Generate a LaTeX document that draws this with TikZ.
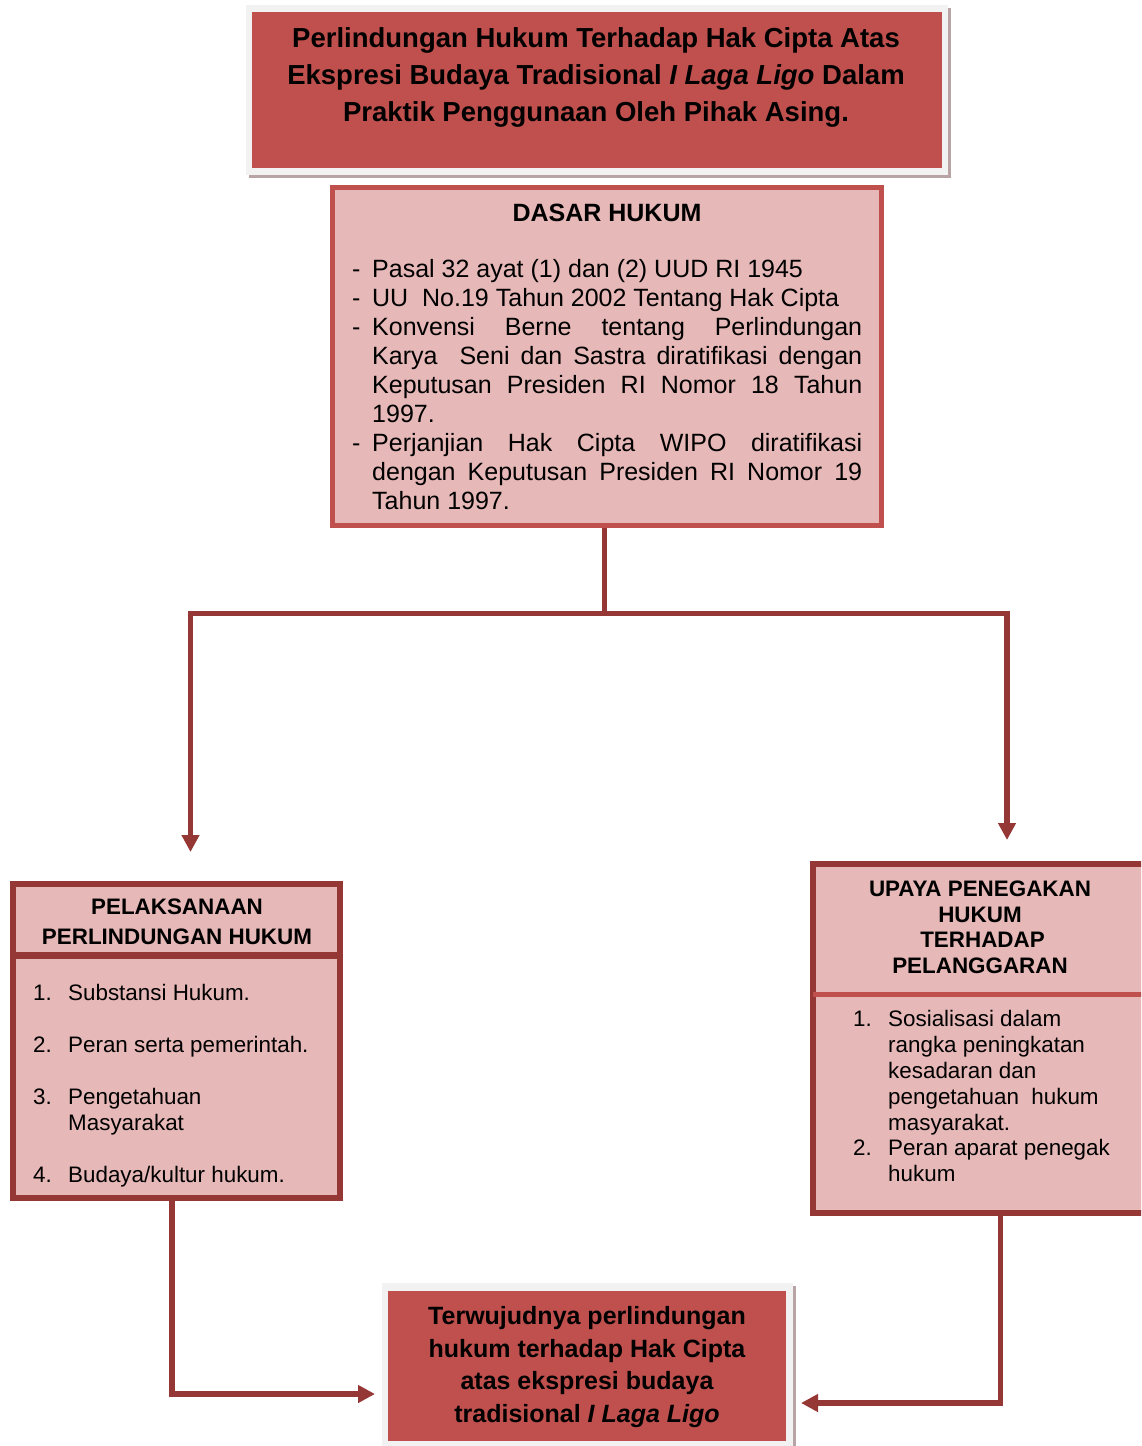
\documentclass[tikz,border=0pt]{standalone}
\usepackage{fontspec}
\setmainfont{Liberation Sans}
\usetikzlibrary{arrows.meta}
\definecolor{hdred}{HTML}{C0504D}
\definecolor{dkred}{HTML}{953735}
\definecolor{pinkfill}{HTML}{E6B8B7}
\definecolor{framegray}{HTML}{F2F2F2}
\definecolor{shadegray}{HTML}{B8A4A4}
\newcommand{\dashitem}{\hangindent=20pt\relax\hangafter=1\relax\noindent\makebox[20pt][l]{-}}
\newcommand{\numitem}[1]{\makebox[35pt][l]{#1}}
\tikzset{
  box/.style={rectangle, inner sep=0pt},
  conn/.style={draw=dkred, line width=5.5pt},
  tip/.style={-{Triangle[length=17pt,width=17pt]}},
  tiptwo/.style={{Triangle[length=17pt,width=17pt]}-{Triangle[length=17pt,width=17pt]}},
  txt/.style={inner sep=0pt, text=black},
}
\begin{document}
\begin{tikzpicture}[x=1pt,y=-1pt]
\useasboundingbox (0,0) rectangle (1141,1446);
\clip (0,0) rectangle (1141,1446);
\fill[white] (0,0) rectangle (1141,1446);

% ---- title box
\node[box, fill=shadegray, minimum width=702pt, minimum height=170pt] (tshadow) at (600,93) {};
\node[box, fill=framegray, minimum width=702pt, minimum height=170pt] (tframe) at (597,90) {};
\node[box, fill=hdred, minimum width=690pt, minimum height=156pt] (tbox) at (597,90) {};
\node[txt, anchor=north, align=center, font=\bfseries\fontsize{27.5}{37}\selectfont] (ttext) at (596,27)
  {Perlindungan Hukum Terhadap Hak Cipta Atas\\Ekspresi Budaya Tradisional \textit{I Laga Ligo} Dalam\\Praktik Penggunaan Oleh Pihak Asing.};

% ---- dasar hukum
\node[box, draw=hdred, line width=5pt, fill=pinkfill, minimum width=549pt, minimum height=338pt] (dbox) at (607,356.5) {};
\node[txt, anchor=north, font=\bfseries\fontsize{25}{29}\selectfont] (dtitle) at (607,204) {DASAR HUKUM};
\node[txt, anchor=north west, font=\fontsize{25}{29}\selectfont] (dlist) at (352,259)
  {\begin{minipage}[t]{510pt}\tolerance=10000\relax
   \dashitem Pasal 32 ayat (1) dan (2) UUD RI 1945\par
   \dashitem UU\ \ No.19 Tahun 2002 Tentang Hak Cipta\par
   \dashitem Konvensi Berne tentang Perlindungan\linebreak Karya\ \ Seni dan Sastra diratifikasi dengan\linebreak Keputusan Presiden RI Nomor 18 Tahun\linebreak 1997.\par
   \dashitem Perjanjian Hak Cipta WIPO diratifikasi\linebreak dengan Keputusan Presiden RI Nomor 19\linebreak Tahun 1997.\par
   \end{minipage}};

% ---- left box
\node[box, draw=dkred, line width=6pt, fill=pinkfill, minimum width=327pt, minimum height=314pt] (lbox) at (176.5,1041) {};
\draw[dkred, line width=7pt] (13,955) -- (340,955);
\node[txt, anchor=north, align=center, font=\bfseries\fontsize{22.4}{30}\selectfont] (lhead) at (177,899)
  {PELAKSANAAN\\PERLINDUNGAN HUKUM};
\node[txt, anchor=north west, align=left, font=\fontsize{22.4}{26}\selectfont] (litems) at (33,984)
  {\numitem{1.}Substansi Hukum.\\[26pt]
   \numitem{2.}Peran serta pemerintah.\\[26pt]
   \numitem{3.}Pengetahuan\\
   \hspace*{35pt}Masyarakat\\[26pt]
   \numitem{4.}Budaya/kultur hukum.};

% ---- right box
\node[box, draw=dkred, line width=6pt, fill=pinkfill, minimum width=340pt, minimum height=349pt] (rbox) at (983,1038.5) {};
\draw[hdred, line width=5pt] (813,994) -- (1153,994);
\node[txt, anchor=north, align=center, font=\bfseries\fontsize{22.4}{25.5}\selectfont] (rhead) at (980,881)
  {UPAYA PENEGAKAN\\HUKUM\\\hspace*{5pt}TERHADAP\\PELANGGARAN};
\node[txt, anchor=north west, align=left, font=\fontsize{22.4}{25.9}\selectfont] (ritems) at (853,1010)
  {\numitem{1.}Sosialisasi dalam\\
   \hspace*{35pt}rangka peningkatan\\
   \hspace*{35pt}kesadaran dan\\
   \hspace*{35pt}pengetahuan\ \ hukum\\
   \hspace*{35pt}masyarakat.\\
   \numitem{2.}Peran aparat penegak\\
   \hspace*{35pt}hukum};

% ---- bottom box
\node[box, fill=shadegray, minimum width=411pt, minimum height=167pt] (bshadow) at (590.5,1369.5) {};
\node[box, fill=framegray, minimum width=411pt, minimum height=167pt] (bframe) at (587.5,1366.5) {};
\node[box, fill=hdred, minimum width=398pt, minimum height=150pt] (bbox) at (587,1366) {};
\node[txt, anchor=north, align=center, font=\bfseries\fontsize{25}{32.7}\selectfont] (btext) at (587,1306)
  {Terwujudnya perlindungan\\hukum terhadap Hak Cipta\\atas ekspresi budaya\\tradisional \textit{I Laga Ligo}};

% ---- connectors
\coordinate (mid) at (604.5,613.5);
\coordinate (jl) at (190.5,613.5);
\coordinate (jr) at (1007,613.5);
\coordinate (tipl) at (190.5,852);
\coordinate (tipr) at (1007,840);
\draw[conn] (dbox.south -| mid) -- (mid);
\draw[conn, tiptwo] (tipl) -- (jl) -- (jr) -- (tipr);

\coordinate (lc) at (172,1394);
\coordinate (lt) at (375,1394);
\draw[conn, tip] (lbox.south -| lc) -- (lc) -- (lt);

\coordinate (rc) at (1000.5,1403);
\coordinate (rt) at (801,1403);
\draw[conn, tip] (rbox.south -| rc) -- (rc) -- (rt);
\end{tikzpicture}
\end{document}
